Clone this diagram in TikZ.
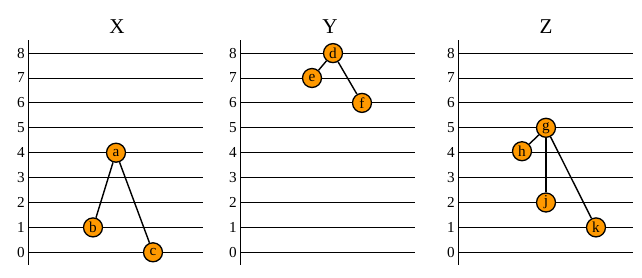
\documentclass[tikz,border=0pt]{standalone}
\usepackage{fontspec}
\setmainfont{Liberation Serif}
\definecolor{nodeor}{HTML}{FF9900}
\begin{document}
\begin{tikzpicture}[x=0.03cm,y=-0.03cm,
  vert/.style={circle,draw=black,line width=1.1pt,fill=nodeor,inner sep=0pt,
    minimum size=0.57cm,font=\fontsize{13}{13}\selectfont},
  levelline/.style={line width=0.75pt,black},
  edgeline/.style={line width=1.2pt,black},
  ticklabel/.style={anchor=east,inner sep=0pt,font=\fontsize{13}{13}\selectfont},
  paneltitle/.style={font=\fontsize{18}{18}\selectfont}]
\useasboundingbox (0,0) rectangle (642,277);
\foreach \ax/\nm/\t in {28/X/117, 240/Y/330, 458/Z/546} {
  \node[paneltitle] (title\nm) at (\t,27) {\nm};
  \draw[levelline] (\ax,40) -- (\ax,265);
  \foreach \n in {0,...,8} {
    \draw[levelline] (\ax,{252.3-24.9*\n}) -- ({\ax+175},{252.3-24.9*\n});
    \node[ticklabel] (lab\nm\n) at ({\ax-3},{252.3-24.9*\n}) {\n};
  }
}
% panel X
\node[vert] (a) at (116,{252.3-24.9*4}) {a};
\node[vert] (b) at (93,{252.3-24.9*1}) {b};
\node[vert] (c) at (153,{252.3-24.9*0}) {c};
\draw[edgeline] (a) -- (b);
\draw[edgeline] (a) -- (c);
% panel Y
\node[vert] (d) at (333,{252.3-24.9*8}) {d};
\node[vert] (e) at (312,{252.3-24.9*7}) {e};
\node[vert] (f) at (362,{252.3-24.9*6}) {f};
\draw[edgeline] (d) -- (e);
\draw[edgeline] (d) -- (f);
% panel Z
\node[vert] (g) at (546,{252.3-24.9*5}) {g};
\node[vert] (h) at (522,{252.3-24.9*4.06}) {h};
\node[vert] (j) at (546,{252.3-24.9*2}) {j};
\node[vert] (k) at (596,{252.3-24.9*1}) {k};
\draw[edgeline] (g) -- (h);
\draw[edgeline] (g) -- (j);
\draw[edgeline] (g) -- (k);
\end{tikzpicture}
\end{document}
